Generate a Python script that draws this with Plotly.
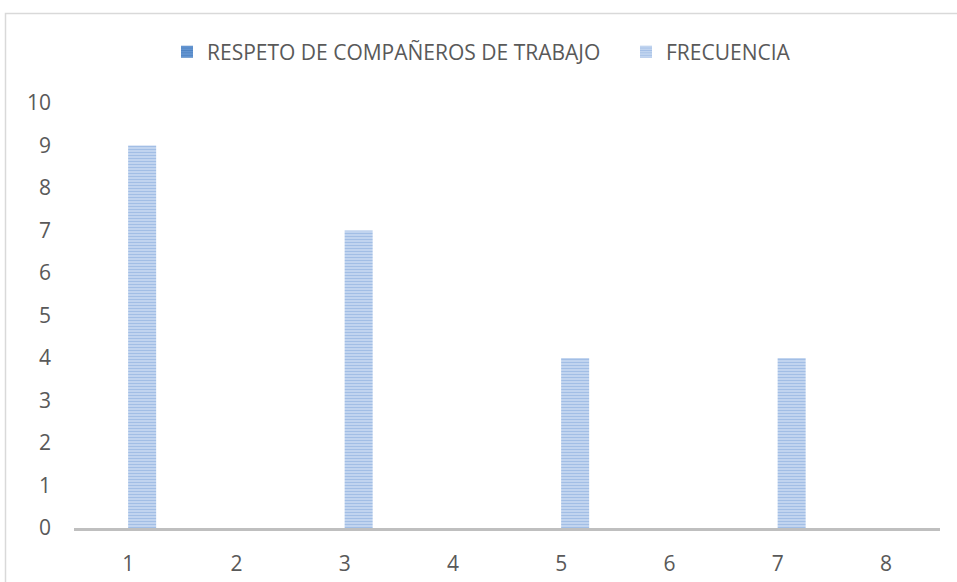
import plotly.graph_objects as go

categories = ["1", "2", "3", "4", "5", "6", "7", "8"]
respeto = [0, 0, 0, 0, 0, 0, 0, 0]
frecuencia = [9, 0, 7, 0, 4, 0, 4, 0]
y_ticks = [0, 1, 2, 3, 4, 5, 6, 7, 8, 9, 10]

W, H = 957, 582
L, R, T, B = 74, 17, 103, 54
pw, ph = W - L - R, H - T - B

def px_x(p):
    return (p - L) / pw

def px_y(p):
    return (H - B - p) / ph

FONT = "Open Sans"
TXT = "#595959"

fig = go.Figure()
fig.add_trace(go.Bar(
    x=categories, y=respeto, name="RESPETO DE COMPAÑEROS DE TRABAJO",
    marker=dict(color="#4A7FC1", line=dict(width=0),
                pattern=dict(shape="-", fgcolor="#2F69AE", bgcolor="#6C9CD6", size=3, solidity=0.5)),
    legend="legend", showlegend=True,
))
fig.add_trace(go.Bar(
    x=categories, y=frecuencia, name="FRECUENCIA",
    marker=dict(color="#A9C4E8", line=dict(width=0),
                pattern=dict(shape="-", fgcolor="#779FD8", bgcolor="#CCDCF2", size=3, solidity=0.5)),
    legend="legend2", showlegend=True,
))

leg_common = dict(orientation="h", xref="container", yref="container", xanchor="left",
                  yanchor="middle", y=1 - 52 / H, bgcolor="rgba(0,0,0,0)",
                  font=dict(family=FONT, size=21, color=TXT))

fig.update_layout(
    width=W, height=H,
    margin=dict(l=L, r=R, t=T, b=B, autoexpand=False),
    paper_bgcolor="white", plot_bgcolor="white",
    showlegend=True,
    barmode="group", bargap=0.482, bargroupgap=0,
    font=dict(family=FONT, size=21, color=TXT),
    legend=dict(x=167 / W, **leg_common),
    legend2=dict(x=626 / W, **leg_common),
    xaxis=dict(showgrid=False, showline=True, linecolor="#BFBFBF", linewidth=3,
               ticks="", ticklabelstandoff=15, zeroline=False, automargin=False,
               tickfont=dict(family=FONT, size=21, color=TXT)),
    yaxis=dict(range=[0, 10], tickvals=y_ticks, showgrid=False, showline=False, zeroline=False,
               ticks="", ticklabelstandoff=22, automargin=False,
               tickfont=dict(family=FONT, size=21, color=TXT)),
    shapes=[dict(type="rect", xref="paper", yref="paper",
                 x0=px_x(5.5), x1=px_x(1000), y0=px_y(13.5), y1=px_y(650),
                 line=dict(color="#D9D9D9", width=1.5), fillcolor="rgba(0,0,0,0)", layer="below")],
)

fig.write_html("out.html", config={"displayModeBar": False},
               post_script="document.body.style.margin='0';document.body.style.overflow='hidden';")
